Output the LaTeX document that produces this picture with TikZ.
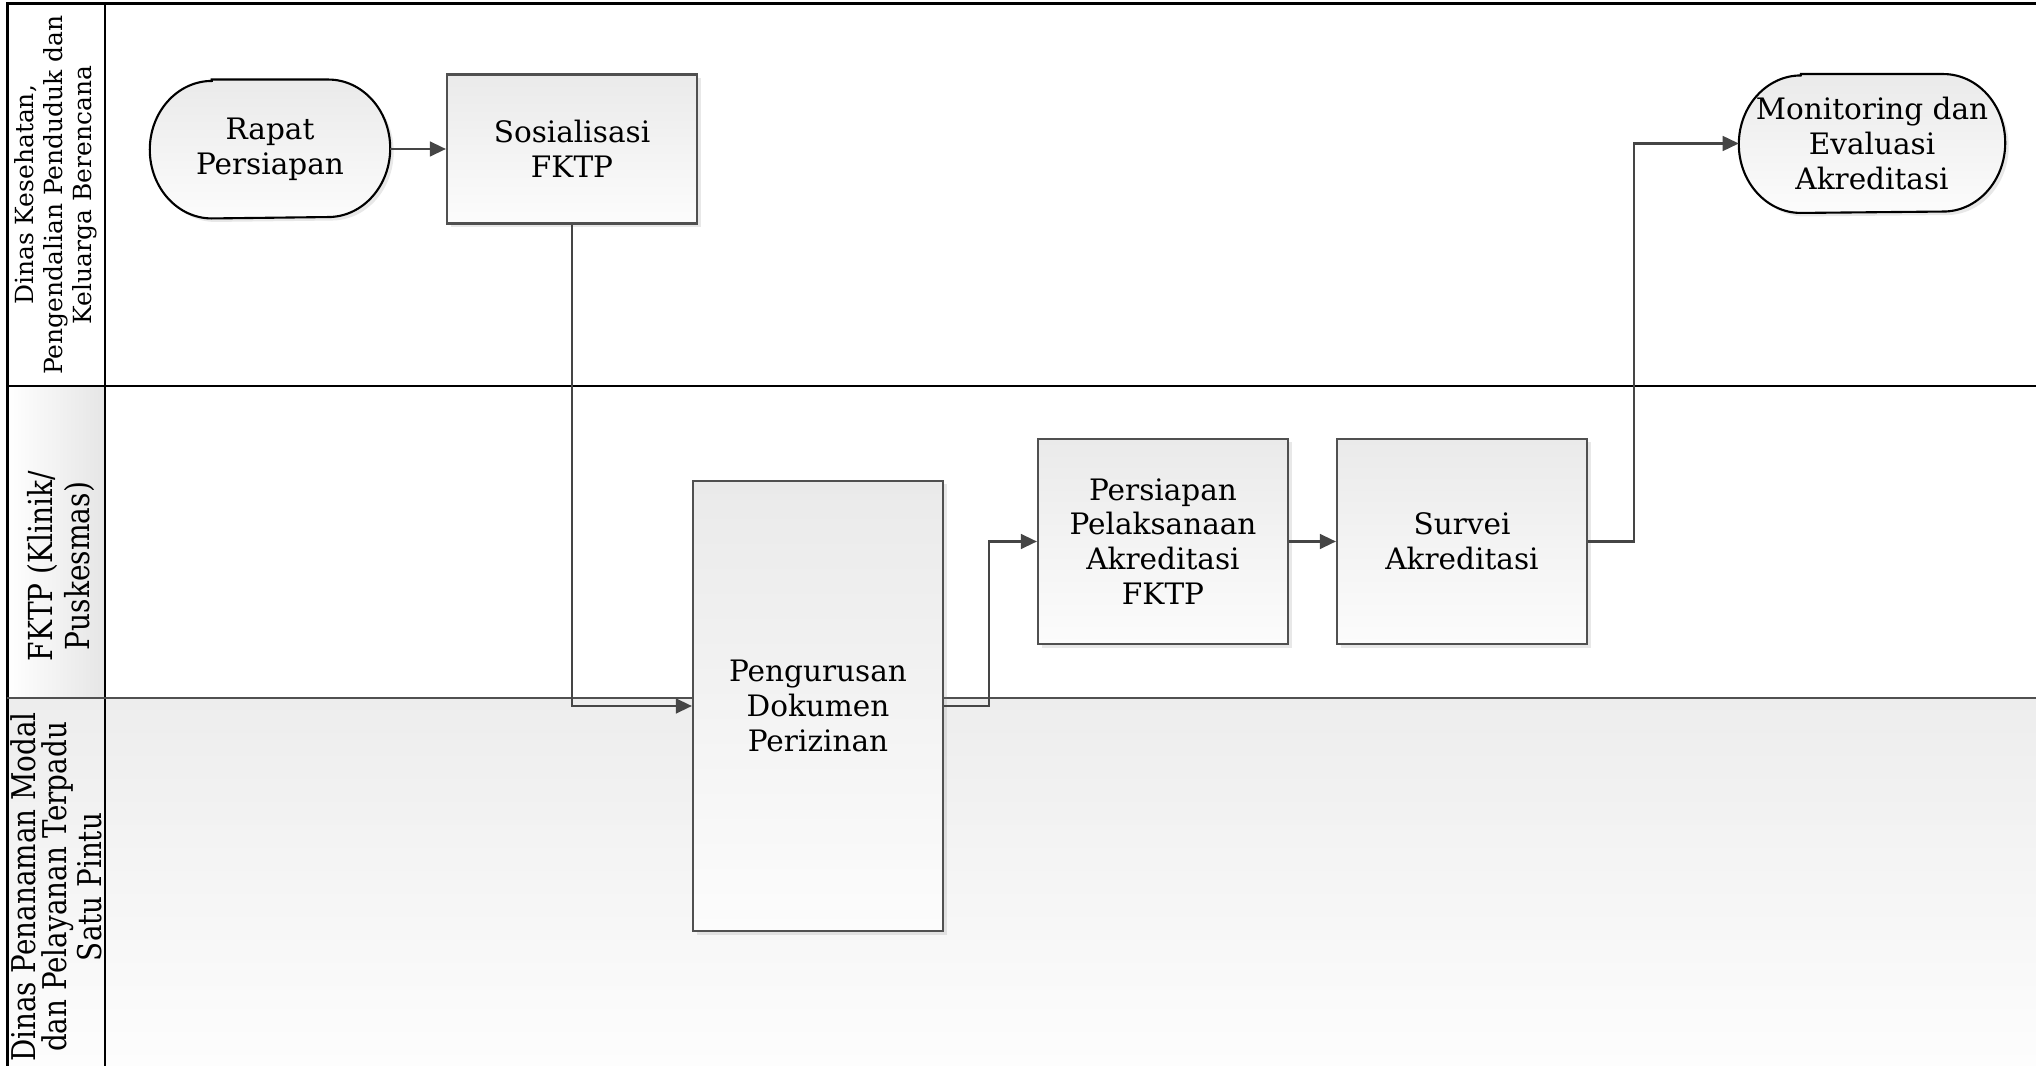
\documentclass[tikz,border=0pt]{standalone}
\usepackage{xcolor}
\usepackage{tikz}
\usepackage{fontspec}
\usetikzlibrary{arrows.meta,shadows}
\setmainfont{DejaVu Serif}
\newfontfamily\narrowserif[FakeStretch=0.85]{DejaVu Serif}
\definecolor{BoxTop}{HTML}{EAEAEA}
\definecolor{BoxBottom}{HTML}{FCFCFC}
\definecolor{Edge}{HTML}{505050}
\definecolor{Wire}{HTML}{454545}
\definecolor{LaneTop}{HTML}{EDEDED}
\definecolor{LaneBottom}{HTML}{FDFDFD}
\pgfdeclarelayer{background}
\pgfsetlayers{background,main}

\begin{document}
\begin{tikzpicture}[x=1cm,y=1cm]
      \tikzstyle{shade}=[top color=BoxTop, bottom color=BoxBottom,
        drop shadow={shadow xshift=0.035cm, shadow yshift=-0.035cm, opacity=0.18}]
      \tikzstyle{proc}=[draw=Edge, line width=0.6pt, shade,
        minimum width=2.5cm, align=center, inner sep=1pt,
        font=\fontsize{8.4}{9.9}\selectfont]
      \tikzstyle{term}=[minimum height=1.375cm, align=center, inner sep=1pt,
        font=\fontsize{8.4}{9.9}\selectfont]
      \tikzstyle{oval}=[draw=black, line width=0.6pt, shade]
      \tikzstyle{flow}=[-{Triangle[length=4.6pt,width=4.2pt]}, line width=0.7pt, color=Wire]
      \tikzstyle{lanehead}=[rotate=90, align=center, inner sep=0pt]
      \useasboundingbox (0,0) rectangle (20.36,-10.66);
      % lanes
      \begin{pgfonlayer}{background}
        \fill[top color=LaneTop, bottom color=LaneBottom] (0.075,-6.98) rectangle (20.36,-10.66);
        \fill[left color=white, right color=black!10] (0.075,-3.86) rectangle (1.05,-6.98);
        \draw[line width=0.9pt] (20.36,-0.035) -- (0.075,-0.035) -- (0.075,-10.66);
        \draw[line width=0.7pt] (1.05,-0.035) -- (1.05,-10.66);
        \draw[line width=0.7pt] (0.075,-3.86) -- (20.36,-3.86);
        \draw[line width=0.7pt, color=Edge] (0.075,-6.98) -- (20.36,-6.98);
      \end{pgfonlayer}
      \node[lanehead, font=\fontsize{7.1}{8.2}\selectfont] (dinkes) at (0.56,-1.95)
        {Dinas Kesehatan,\\Pengendalian Penduduk dan\\Keluarga Berencana};
      \node[lanehead, font=\narrowserif\fontsize{9.4}{10.4}\selectfont] (fktp) at (0.61,-5.66)
        {FKTP (Klinik/\\Puskesmas)};
      \node[lanehead, font=\narrowserif\fontsize{9.3}{8.8}\selectfont] (dpmptsp) at (0.56,-8.87)
        {Dinas Penanaman Modal\\dan Pelayanan Terpadu\\Satu Pintu};
      % steps
      \node[term, minimum width=2.39cm] (rapat) at (2.70,-1.49) {Rapat\\Persiapan};
      \node[proc, minimum height=1.49cm] (sos) at (5.72,-1.49) {Sosialisasi\\FKTP};
      \node[proc, minimum height=4.50cm] (peng) at (8.18,-7.06) {Pengurusan\\Dokumen\\Perizinan};
      \node[proc, minimum height=2.05cm] (pers) at (11.63,-5.415) {Persiapan\\Pelaksanaan\\Akreditasi\\FKTP};
      \node[proc, minimum height=2.05cm] (surv) at (14.62,-5.415) {Survei\\Akreditasi};
      \node[term, minimum width=2.65cm] (mon) at (18.72,-1.435) {Monitoring dan\\Evaluasi\\Akreditasi};
      % start and end outlines
      \begin{pgfonlayer}{background}
        \foreach \n in {rapat,mon}
          \draw[oval] ([xshift=0.62cm]\n.north west) -- ([xshift=-0.62cm]\n.north east)
            arc[start angle=90, end angle=-90, x radius=0.62cm, y radius=0.6875cm]
            -- ([xshift=0.62cm]\n.south west)
            arc[start angle=270, end angle=90, x radius=0.62cm, y radius=0.6875cm] -- cycle;
      \end{pgfonlayer}
      \draw[flow] (rapat) -- (sos);
      \draw[flow] (sos) |- (peng);
      \draw[flow] (peng.east) -- ++(0.45,0) |- (pers.west);
      \draw[flow] (pers) -- (surv);
      \draw[flow] (surv.east) -- ++(0.46,0) |- (mon.west);
    \end{tikzpicture}
\end{document}
